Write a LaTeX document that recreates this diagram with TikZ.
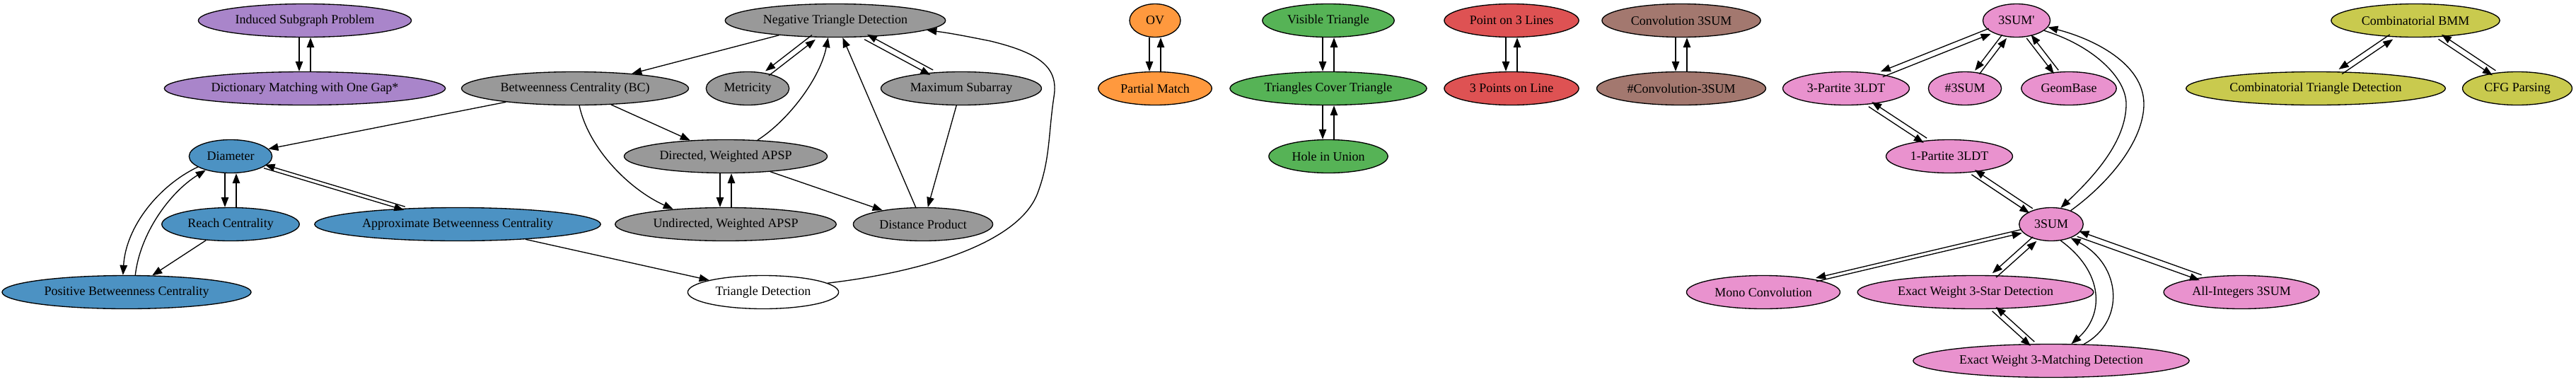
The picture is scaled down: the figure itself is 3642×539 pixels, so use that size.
\documentclass[tikz,border=0pt]{standalone}
\usepackage{fontspec}
\setmainfont{Liberation Serif}[Ligatures=TeXOff]
\usetikzlibrary{shapes.geometric,arrows.meta,calc}

\definecolor{tblue}{HTML}{1F77B4}
\definecolor{torange}{HTML}{FF7F0E}
\definecolor{tgreen}{HTML}{2CA02C}
\definecolor{tred}{HTML}{D62728}
\definecolor{tpurple}{HTML}{9467BD}
\definecolor{tbrown}{HTML}{8C564B}
\definecolor{tpink}{HTML}{E377C2}
\definecolor{tgray}{HTML}{7F7F7F}
\definecolor{tolive}{HTML}{BCBD22}

\tikzset{
  prob/.style={ellipse,draw,line width=1.33pt,inner xsep=8pt,inner ysep=2pt,
    minimum width=72pt,minimum height=47pt,font=\fontsize{18}{21}\selectfont},
  link/.style={line width=1.33pt,-{Triangle[length=14pt,width=10.5pt]}},
}

% two opposite reductions drawn side by side
\newcommand{\biedge}[3][4pt]{%
  \path (#2) -- (#3) coordinate[pos=0] (p0) coordinate[pos=1] (p1);
  \draw[link] ($(p0)!#1!-90:(p1)$) -- ($(p1)!#1!90:(p0)$);
  \draw[link] ($(p1)!#1!-90:(p0)$) -- ($(p0)!#1!90:(p1)$);}

\begin{document}
\begin{tikzpicture}[x=1pt,y=-1pt]
	\useasboundingbox (0,0) rectangle (3642,539);
	\def\ra{29} \def\rb{125} \def\rc{221} % rank heights
	\def\rd{317} \def\re{413} \def\rf{510}
	
	% graph problems
	\node[prob,fill=tpurple!80] (ind) at (431,\ra) {Induced Subgraph Problem};
	\node[prob,fill=tpurple!80] (dict) at (431,\rb) {Dictionary Matching with One Gap*};
	\node[prob,fill=tgray!80] (ntd) at (1181,\ra) {Negative Triangle Detection};
	\node[prob,fill=tgray!80] (bc) at (813,\rb) {Betweenness Centrality (BC)};
	\node[prob,fill=tgray!80] (metr) at (1057,\rb) {Metricity};
	\node[prob,fill=tgray!80] (maxsub) at (1359,\rb) {Maximum Subarray};
	\node[prob,fill=tgray!80] (dir) at (1026,\rc) {Directed, Weighted APSP};
	\node[prob,fill=tgray!80] (und) at (1026,\rd) {Undirected, Weighted APSP};
	\node[prob,fill=tgray!80] (dist) at (1305,\rd) {Distance Product};
	\node[prob,fill=white] (tri) at (1079,\re) {Triangle Detection};
	\node[prob,fill=tblue!80] (diam) at (326,\rc) {Diameter};
	\node[prob,fill=tblue!80] (reach) at (326,\rd) {Reach Centrality};
	\node[prob,fill=tblue!80] (approx) at (647,\rd) {Approximate Betweenness Centrality};
	\node[prob,fill=tblue!80] (pos) at (179,\re) {Positive Betweenness Centrality};
	
	% small groups
	\node[prob,fill=torange!80] (ov) at (1633,\ra) {OV};
	\node[prob,fill=torange!80] (partial) at (1633,\rb) {Partial Match};
	\node[prob,fill=tgreen!80] (visible) at (1878,\ra) {Visible Triangle};
	\node[prob,fill=tgreen!80] (tct) at (1878,\rb) {Triangles Cover Triangle};
	\node[prob,fill=tgreen!80] (hole) at (1878,\rc) {Hole in Union};
	\node[prob,fill=tred!80] (point3) at (2137,\ra) {Point on 3 Lines};
	\node[prob,fill=tred!80] (points3) at (2137,\rb) {3 Points on Line};
	\node[prob,fill=tbrown!80] (conv) at (2377,\ra) {Convolution 3SUM};
	\node[prob,fill=tbrown!80] (sconv) at (2377,\rb) {\#Convolution-3SUM};
	
	% 3SUM family
	\node[prob,fill=tpink!80] (sump) at (2851,\ra) {3SUM'};
	\node[prob,fill=tpink!80] (part3) at (2610,\rb) {3-Partite 3LDT};
	\node[prob,fill=tpink!80] (ssum) at (2778,\rb) {\#3SUM};
	\node[prob,fill=tpink!80] (geom) at (2925,\rb) {GeomBase};
	\node[prob,fill=tpink!80] (part1) at (2756,\rc) {1-Partite 3LDT};
	\node[prob,fill=tpink!80] (sum) at (2900,\rd) {3SUM};
	\node[prob,fill=tpink!80] (mono) at (2493,\re) {Mono Convolution};
	\node[prob,fill=tpink!80] (star) at (2793,\re) {Exact Weight 3-Star Detection};
	\node[prob,fill=tpink!80] (allint) at (3169,\re) {All-Integers 3SUM};
	\node[prob,fill=tpink!80] (mat) at (2900,\rf) {Exact Weight 3-Matching Detection};
	
	\node[prob,fill=tolive!80] (bmm) at (3415,\ra) {Combinatorial BMM};
	\node[prob,fill=tolive!80] (combtri) at (3274,\rb) {Combinatorial Triangle Detection};
	\node[prob,fill=tolive!80] (cfg) at (3559,\rb) {CFG Parsing};
	
	% two-way reductions
	\foreach \a/\b in {ind/dict,ov/partial,visible/tct,tct/hole,point3/points3,conv/sconv,diam/reach,dir/und}
		{\biedge[8pt]{\a}{\b}}
	\foreach \a/\b in {ntd/metr,ntd/maxsub,sump/part3,sump/ssum,sump/geom,part3/part1,part1/sum,sum/star,sum/allint,star/mat,bmm/combtri,bmm/cfg}
		{\biedge{\a}{\b}}
	\foreach \a/\b in {diam/approx,sum/mono}
		{\biedge[2.5pt]{\a}{\b}}
	
	% one-way reductions
	\draw[link] (ntd) -- (bc);
	\draw[link] (bc) -- (diam);
	\draw[link] (bc) -- (dir);
	\draw[link] (bc.284) .. controls (832,210) and (890,268) .. (und.164);
	\draw[link] (dir.27) .. controls (1115,170) and (1160,110) .. (ntd.247);
	\draw[link] (dist) -- (ntd);
	\draw[link] (maxsub) -- (dist);
	\draw[link] (dir) -- (dist);
	\draw[link] (approx) -- (tri);
	\draw[link] (tri.8) .. controls (1300,385) and (1440,345) .. (1467,273)
		.. controls (1485,225) and (1482,190) .. (1490,137)
		.. controls (1497,95) and (1470,75) .. (1400,58)
		.. controls (1370,52) and (1345,47) .. (ntd.-6);
	\draw[link] (reach) -- (pos);
	\draw[link] (diam.198) .. controls (225,262) and (178,320) .. (pos.102);
	\draw[link] (pos.63) .. controls (198,330) and (240,272) .. (diam.209);
	
	% 3SUM' and 3SUM, 3SUM and matching
	\draw[link] (sump.-20) .. controls (2960,65) and (3006,110) .. (3006,147)
		.. controls (3006,200) and (2960,250) .. (sum.60);
	\draw[link] (sum.35) .. controls (2980,260) and (3031,200) .. (3031,147)
		.. controls (3031,90) and (2960,55) .. (sump.-12);
	\draw[link] (sum.-60) .. controls (2975,385) and (2975,445) .. (mat.40);
	\draw[link] (mat.27) .. controls (3005,455) and (3000,375) .. (sum.-35);
\end{tikzpicture}
\end{document}
